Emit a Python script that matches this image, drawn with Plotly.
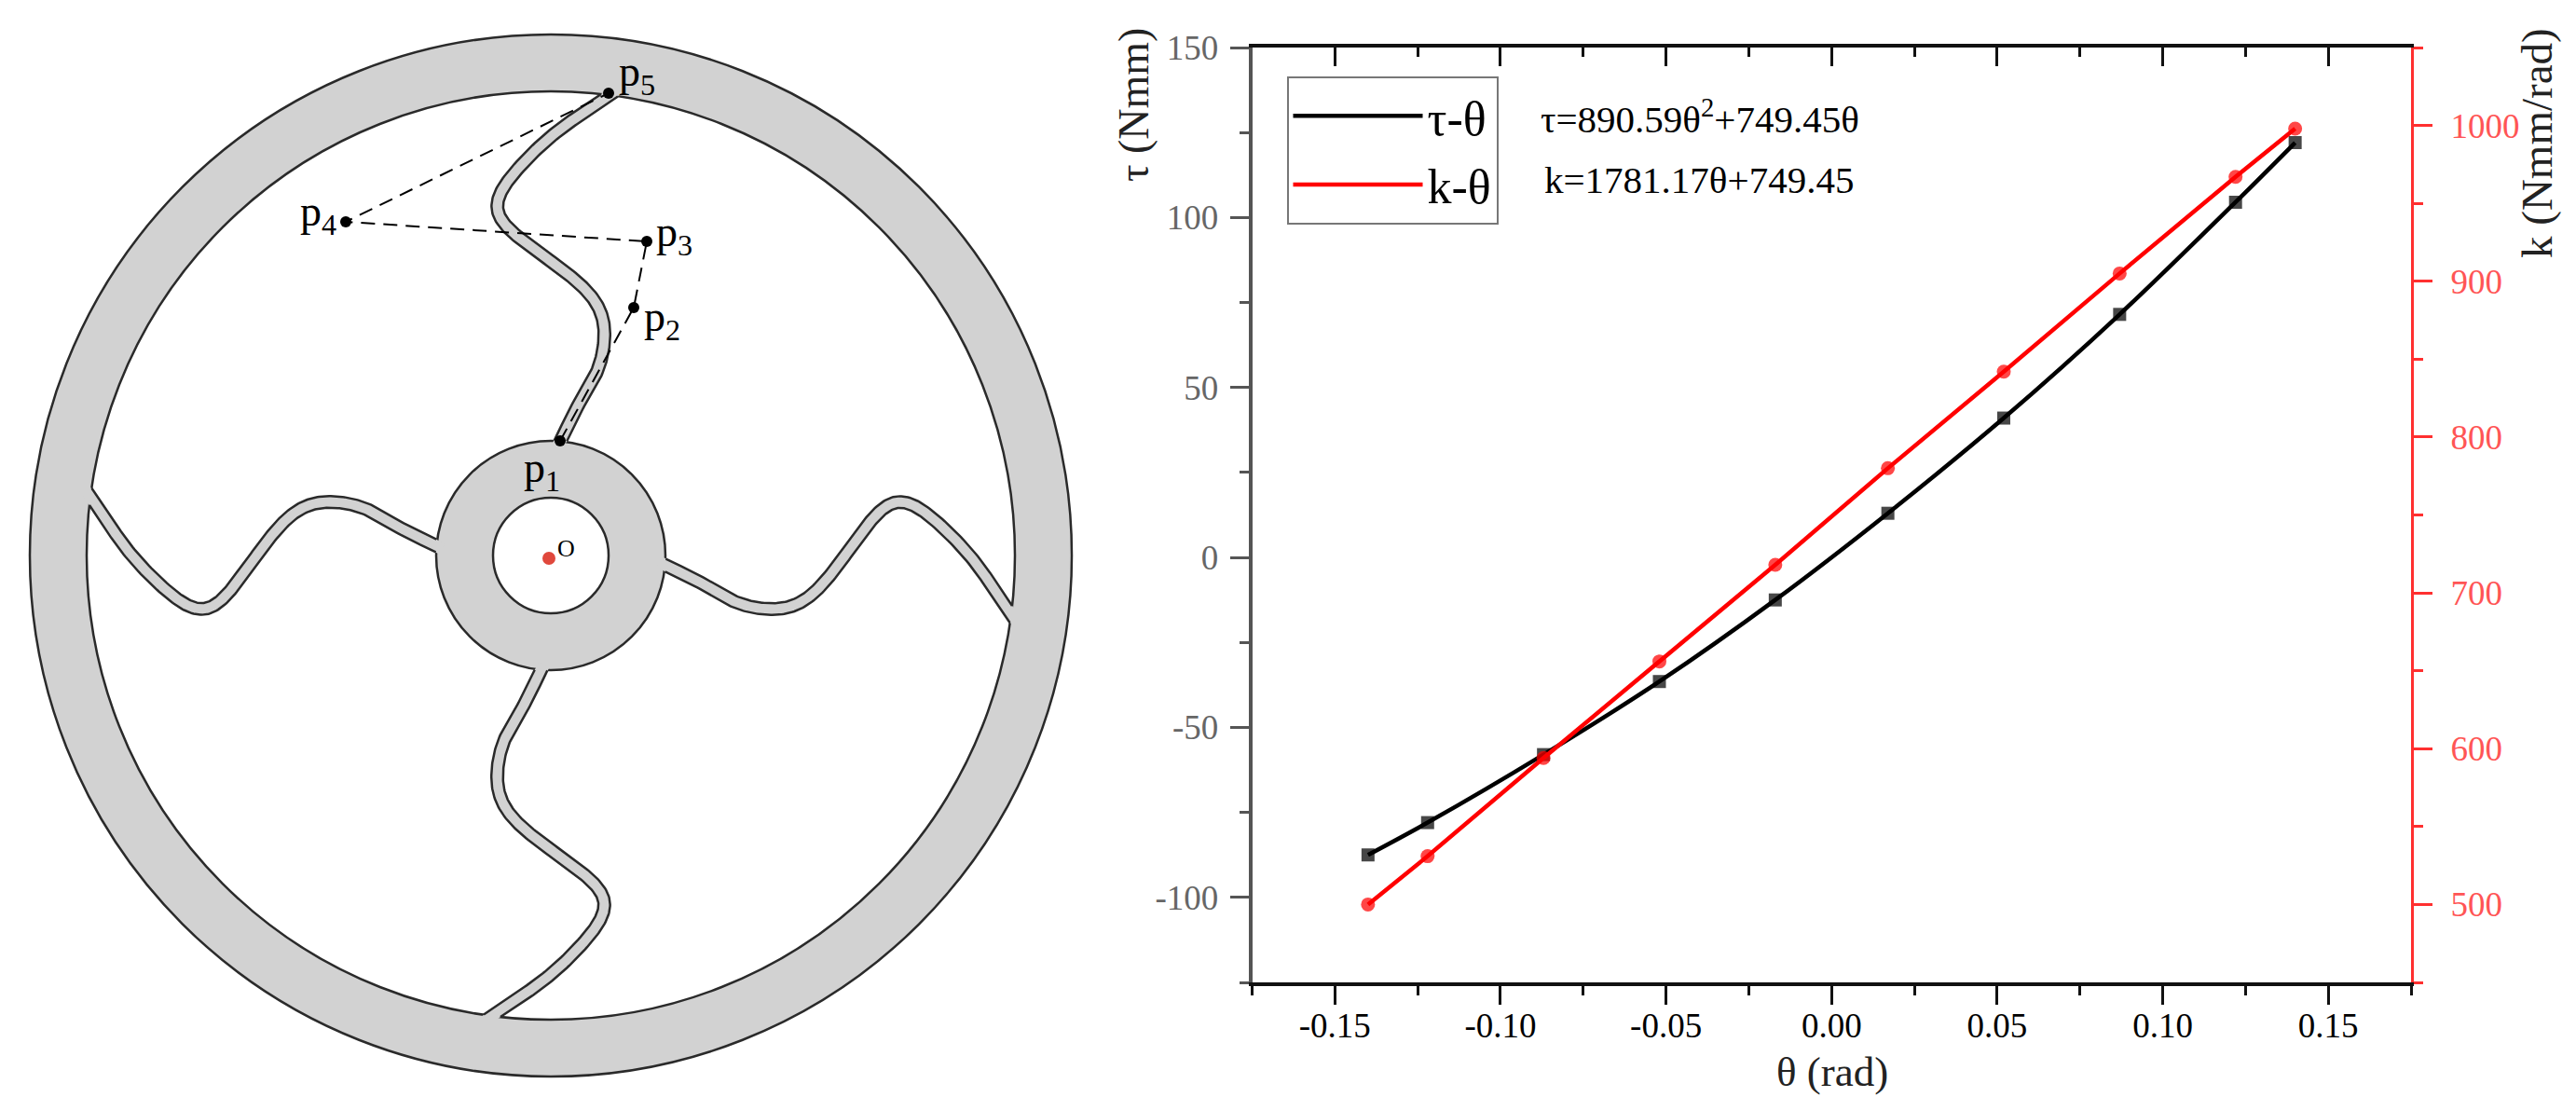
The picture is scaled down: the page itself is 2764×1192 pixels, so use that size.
import numpy as np
import plotly.graph_objects as go

W, H = 2764, 1192
FONT = "Liberation Serif"

# ---- chart data ----
theta = [-0.14, -0.122, -0.087, -0.052, -0.017, 0.017, 0.052, 0.087, 0.122, 0.14]
tau = [-87.5, -78, -58, -36.5, -12.5, 13, 41, 71.5, 104.5, 122]
stiff = [500, 531, 594, 656, 718, 780, 842, 905, 967, 998]
x_ticks = [-0.15, -0.10, -0.05, 0.00, 0.05, 0.10, 0.15]
x_minor = [-0.175, -0.125, -0.075, -0.025, 0.025, 0.075, 0.125, 0.175]
x_tick_labels = ["-0.15", "-0.10", "-0.05", "0.00", "0.05", "0.10", "0.15"]
tau_ticks = [-100, -50, 0, 50, 100, 150]
tau_tick_labels = ["-100", "-50", "0", "50", "100", "150"]
tau_minor = [-125, -75, -25, 25, 75, 125]
k_ticks = [500, 600, 700, 800, 900, 1000]
k_minor = [450, 550, 650, 750, 850, 950, 1050]

# ---- mechanism sketch, in picture pixels ----
hub_c = (591, 596)
r_outer, r_inner, r_hub, r_hole = 559, 498, 123, 62
arm_x = [603.3, 620, 638, 646.7, 649, 645, 630, 606.7, 576.7, 550, 533.3, 535, 550, 586.7, 620, 653.3]
arm_y = [470, 433.3, 406.7, 380, 356.7, 333.3, 311.7, 291.7, 270, 250, 230, 210, 186.7, 149, 125, 103.3]
arm_start = (598, 479)
arm_end = (663, 95)
arm_w = 12.5
px = [601, 680, 694, 371, 653]
py = [473, 330, 259, 238, 100]
p_label_x = [581, 710, 723, 341, 683]
p_label_y = [505, 343, 252, 230, 80]
p_label = ["p<sub>1</sub>", "p<sub>2</sub>", "p<sub>3</sub>", "p<sub>4</sub>", "p<sub>5</sub>"]


def catmull(xs, ys, n=14):
    P = np.column_stack([xs, ys]).astype(float)
    P = np.vstack([2 * P[0] - P[1], P, 2 * P[-1] - P[-2]])
    out = []
    for i in range(1, len(P) - 2):
        for t in np.linspace(0, 1, n, endpoint=False):
            out.append(0.5 * (2 * P[i] + (P[i + 1] - P[i - 1]) * t
                              + (2 * P[i - 1] - 5 * P[i] + 4 * P[i + 1] - P[i + 2]) * t ** 2
                              + (3 * P[i] - P[i - 1] - 3 * P[i + 1] + P[i + 2]) * t ** 3))
    out.append(P[-2])
    return np.array(out)


def smooth(P, win=21):
    Q = P.copy()
    h = win // 2
    for i in range(len(P)):
        m = min(h, i, len(P) - 1 - i)
        Q[i] = P[i - m:i + m + 1].mean(axis=0)
    return Q


c = smooth(catmull([arm_start[0]] + arm_x + [arm_end[0]], [arm_start[1]] + arm_y + [arm_end[1]]))
d = np.gradient(c, axis=0)
d /= np.linalg.norm(d, axis=1, keepdims=True)
nrm = np.column_stack([-d[:, 1], d[:, 0]])
edge_a, edge_b = c + nrm * arm_w / 2, c - nrm * arm_w / 2
O = np.array(hub_c, float)


def rot(pts, k):
    v = pts - O
    for _ in range(k):
        v = np.column_stack([v[:, 1], -v[:, 0]])
    return v + O


def clipped(e):
    r = np.linalg.norm(e - O, axis=1)
    return e[(r > r_hub) & (r < r_inner)]


sk = dict(xaxis="x3", yaxis="y3", showlegend=False, hoverinfo="skip")
fig = go.Figure()

for k in range(4):
    a, b = rot(edge_a, k), rot(edge_b, k)
    poly = np.vstack([a, b[::-1], a[:1]])
    fig.add_trace(go.Scatter(x=poly[:, 0], y=poly[:, 1], mode="lines", fill="toself",
                             fillcolor="#d2d2d2", line=dict(width=0, color="#d2d2d2"), **sk))
    for e in (a, b):
        e = clipped(e)
        fig.add_trace(go.Scatter(x=e[:, 0], y=e[:, 1], mode="lines",
                                 line=dict(color="#2a2a2a", width=2.5), **sk))

fig.add_trace(go.Scatter(x=px, y=py, mode="lines",
                         line=dict(color="black", width=2, dash="15px,9px"), **sk))
fig.add_trace(go.Scatter(x=px, y=py, mode="markers",
                         marker=dict(color="black", size=12), **sk))
fig.add_trace(go.Scatter(x=[hub_c[0] - 2], y=[hub_c[1] + 3], mode="markers",
                         marker=dict(color="#e0483c", size=14), **sk))

# ---- chart traces ----
for name, yv, col, ya, shape, sym, ms in [("τ-θ", tau, "black", "y", "spline", "square", 14),
                                          ("k-θ", stiff, "#ff0000", "y2", "linear", "circle", 15)]:
    fig.add_trace(go.Scatter(x=theta, y=yv, name=name, mode="lines", xaxis="x", yaxis=ya,
                             legendgroup=name,
                             line=dict(color=col, width=4.5, shape=shape, smoothing=0.8)))
    fig.add_trace(go.Scatter(x=theta, y=yv, mode="markers", xaxis="x", yaxis=ya,
                             showlegend=False, legendgroup=name,
                             marker=dict(symbol=sym, color=col, size=ms, opacity=0.72,
                                         line=dict(width=0))))
fig.add_trace(go.Scatter(x=[theta[0]], y=[tau[0]], mode="markers", xaxis="x2", yaxis="y",
                         showlegend=False, hoverinfo="skip", marker=dict(opacity=0)))

# ---- sketch circles ----
shapes = []
for r, fc in [(r_outer, "#d2d2d2"), (r_inner, "white"), (r_hub, "#d2d2d2"), (r_hole, "white")]:
    shapes.append(dict(type="circle", xref="x3", yref="y3", layer="below",
                       x0=hub_c[0] - r, x1=hub_c[0] + r, y0=hub_c[1] - r, y1=hub_c[1] + r,
                       fillcolor=fc, line=dict(color="#2a2a2a", width=2.5)))

ann = []
for lx, ly, t in zip(p_label_x, p_label_y, p_label):
    ann.append(dict(x=lx, y=ly, xref="x3", yref="y3", text=t, showarrow=False,
                    font=dict(family=FONT, size=46, color="black")))
ann.append(dict(x=607, y=588, xref="x3", yref="y3", text="O", showarrow=False,
                font=dict(family=FONT, size=26, color="black")))
ann.append(dict(x=1651, y=143, xref="x3", yref="y3", xanchor="left", yanchor="bottom",
                yshift=-10, showarrow=False, text="τ=890.59θ<sup>2</sup>+749.45θ",
                font=dict(family=FONT, size=41, color="black")))
ann.append(dict(x=1655, y=208, xref="x3", yref="y3", xanchor="left", yanchor="bottom",
                yshift=-10, showarrow=False, text="k=1781.17θ+749.45",
                font=dict(family=FONT, size=41, color="black")))
ann.append(dict(x=1216, y=113, xref="x3", yref="y3", textangle=-90, showarrow=False,
                text="τ (Nmm)", font=dict(family=FONT, size=46, color="#222222")))
ann.append(dict(x=2722, y=154, xref="x3", yref="y3", textangle=-90, showarrow=False,
                text="k (Nmm/rad)", font=dict(family=FONT, size=47, color="#222222")))
ann.append(dict(x=1966, y=1150, xref="x3", yref="y3", showarrow=False,
                text="θ (rad)", font=dict(family=FONT, size=45, color="#222222")))

x0, x1 = 1343.5 / W, 2587 / W
y0, y1 = 1 - 1054 / H, 1 - 51 / H
LW = 3.5
common = dict(showgrid=False, zeroline=False, showline=True, automargin=False)
fig.update_layout(
    template="none",
    width=W, height=H, autosize=False, margin=dict(l=0, r=0, t=0, b=0, pad=0),
    paper_bgcolor="white", plot_bgcolor="rgba(0,0,0,0)",
    font=dict(family=FONT, color="black"),
    shapes=shapes, annotations=ann,
    legend=dict(x=1380.5 / W, y=1 - 82 / H, xanchor="left", yanchor="top",
                bgcolor="rgba(255,255,255,0)", bordercolor="#777777", borderwidth=2,
                font=dict(family=FONT, size=52, color="black"),
                itemwidth=139, tracegroupgap=3, traceorder="grouped",
                entrywidth=84, entrywidthmode="pixels"),
    xaxis=dict(domain=[x0, x1], range=[-0.175, 0.175], anchor="y", **common,
               linecolor="#111111", linewidth=LW, ticks="outside", ticklen=20, tickwidth=3,
               tickcolor="#111111", tickmode="array", tickvals=x_ticks, ticktext=x_tick_labels,
               ticklabelstandoff=-9,
               tickfont=dict(family=FONT, size=37, color="black"),
               minor=dict(ticks="outside", ticklen=10, tickwidth=3, tickcolor="#111111",
                          tickmode="array", tickvals=x_minor)),
    xaxis2=dict(domain=[x0, x1], range=[-0.175, 0.175], anchor="y", overlaying="x", side="top", **common,
                linecolor="#111111", linewidth=LW,
                ticks="inside", ticklen=20, tickwidth=3, tickcolor="#111111",
                tickmode="array", tickvals=x_ticks, showticklabels=False,
                minor=dict(ticks="inside", ticklen=10, tickwidth=3, tickcolor="#111111",
                           tickmode="array", tickvals=x_minor)),
    yaxis=dict(domain=[y0, y1], range=[-125, 150], anchor="x", **common,
               linecolor="#555555", linewidth=LW, ticks="outside", ticklen=20, tickwidth=3,
               tickcolor="#555555", tickmode="array", tickvals=tau_ticks, ticktext=tau_tick_labels,
               ticklabelstandoff=5,
               tickfont=dict(family=FONT, size=37, color="#666666"),
               minor=dict(ticks="outside", ticklen=10, tickwidth=3, tickcolor="#555555",
                          tickmode="array", tickvals=tau_minor)),
    yaxis2=dict(domain=[y0, y1], range=[450, 1050], anchor="x", overlaying="y", side="right", **common,
                linecolor="#ff3030", linewidth=3,
                ticks="outside", ticklen=20, tickwidth=3, tickcolor="#ff3030",
                tickmode="array", tickvals=k_ticks, ticklabelstandoff=12,
                tickfont=dict(family=FONT, size=37, color="#ff5555"),
                minor=dict(ticks="outside", ticklen=10, tickwidth=3, tickcolor="#ff3030",
                           tickmode="array", tickvals=k_minor)),
    xaxis3=dict(domain=[0, 1], range=[0, W], anchor="y3", visible=False, fixedrange=True, automargin=False),
    yaxis3=dict(domain=[0, 1], range=[H, 0], anchor="x3", visible=False, fixedrange=True, automargin=False),
)

fig.write_html("out.html", config=dict(displayModeBar=False),
               post_script="document.body.style.margin='0';")
